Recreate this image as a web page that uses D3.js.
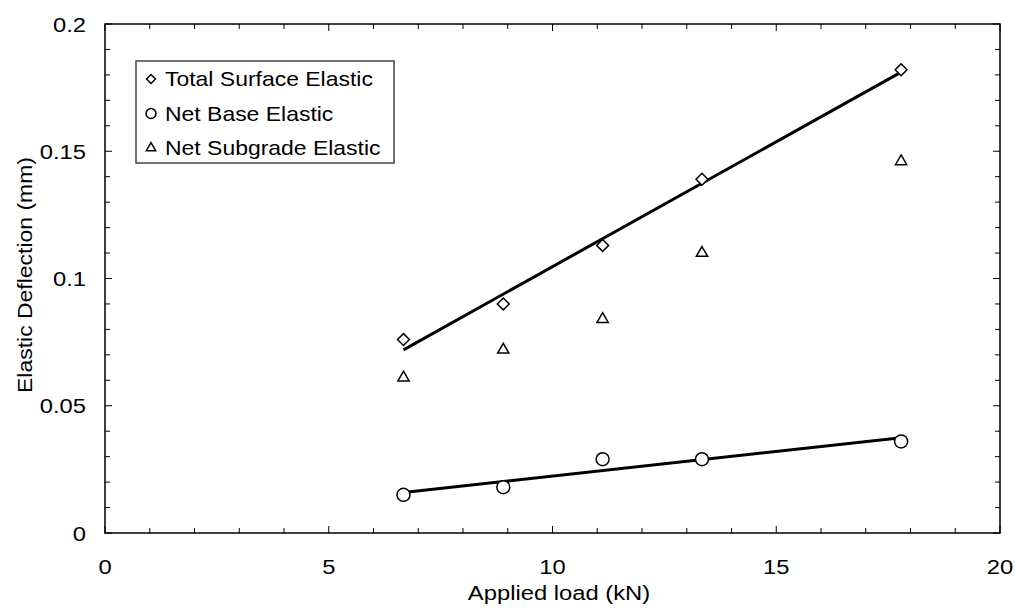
<!DOCTYPE html>
<html>
<head>
<meta charset="utf-8">
<script src="https://cdn.jsdelivr.net/npm/d3@7"></script>
<style>
    body { margin: 0; background: #fff; }
    text { font-family: "Liberation Sans", Arial, sans-serif; fill: #000; font-size: 20.5px; }
</style>
</head>
<body>
<script>
(function(){

    //data
    var loads = [6.67, 8.90, 11.12, 13.34, 17.79];          //applied load (kN)
    var totalSurface = [0.076, 0.090, 0.113, 0.139, 0.182];  //Total Surface Elastic
    var netBase = [0.015, 0.018, 0.029, 0.029, 0.036];       //Net Base Elastic
    var netSubgrade = [0.061, 0.072, 0.084, 0.110, 0.146];   //Net Subgrade Elastic
    var xTicks = [0, 5, 10, 15, 20];
    var yTicks = [0, 0.05, 0.1, 0.15, 0.2];
    var legendItems = ["Total Surface Elastic", "Net Base Elastic", "Net Subgrade Elastic"];

    var width = 1015, height = 610;
    var left = 105, right = 1000, top = 24, bottom = 533;
    var stretch = 1.16; //text in the original is a bit wider than Arial

    var svg = d3.select("body").append("svg")
        .attr("width", width)
        .attr("height", height);

    var x = d3.scaleLinear().domain([0, 20]).range([left, right]);
    var y = d3.scaleLinear().domain([0, 0.2]).range([bottom, top]);

    //helper: stretched text placed at (tx, ty)
    function label(parent, tx, ty, str, anchor, rot, sx){
        return parent.append("text")
            .attr("transform", "translate(" + tx + "," + ty + ")" + (rot ? " rotate(" + rot + ")" : "") + " scale(" + (sx || stretch) + ",1)")
            .attr("text-anchor", anchor || "start")
            .text(str);
    }

    //minor + major ticks, pointing inward on all four sides
    var xMinor = d3.range(0, 21, 1), yMinor = d3.range(0, 0.2001, 0.01);
    function isMajorX(v){ return Math.abs(v % 5) < 1e-9; }
    function isMajorY(v){ return Math.abs(Math.round(v * 100) % 5) === 0; }

    var ticks = svg.append("g").attr("stroke", "#000").attr("stroke-width", 1);
    xMinor.forEach(function(v){
        var len = isMajorX(v) ? 7 : 5;
        ticks.append("line").attr("x1", x(v)).attr("x2", x(v)).attr("y1", bottom).attr("y2", bottom - len);
        ticks.append("line").attr("x1", x(v)).attr("x2", x(v)).attr("y1", top).attr("y2", top + len);
    });
    yMinor.forEach(function(v){
        var len = isMajorY(v) ? 7 : 5;
        ticks.append("line").attr("x1", left).attr("x2", left + len).attr("y1", y(v)).attr("y2", y(v));
        ticks.append("line").attr("x1", right).attr("x2", right - len).attr("y1", y(v)).attr("y2", y(v));
    });

    //plot frame
    svg.append("rect")
        .attr("x", left).attr("y", top)
        .attr("width", right - left).attr("height", bottom - top)
        .attr("fill", "none").attr("stroke", "#000").attr("stroke-width", 1.5);

    //tick labels
    xTicks.forEach(function(d){ label(svg, x(d), 574, d, "middle"); });
    yTicks.forEach(function(d){ label(svg, 86, y(d) + 7.5, d, "end"); });

    //axis titles
    label(svg, 559, 600, "Applied load (kN)", "middle");
    label(svg, 32, 275, "Elastic Deflection (mm)", "middle", -90, 1.12);

    //least squares trendline
    function fit(xs, ys){
        var mx = d3.mean(xs), my = d3.mean(ys);
        var sxy = d3.sum(xs, function(v, i){ return (v - mx) * (ys[i] - my); });
        var sxx = d3.sum(xs, function(v){ return (v - mx) * (v - mx); });
        var b = sxy / sxx;
        return function(v){ return my + b * (v - mx); };
    }
    [totalSurface, netBase].forEach(function(ys){
        var f = fit(loads, ys);
        var x0 = d3.min(loads), x1 = d3.max(loads);
        svg.append("line")
            .attr("x1", x(x0)).attr("y1", y(f(x0)))
            .attr("x2", x(x1)).attr("y2", y(f(x1)))
            .attr("stroke", "#000").attr("stroke-width", 3);
    });

    //markers
    var diamond = d3.symbol().type(d3.symbolDiamond2).size(90);
    var triangle = d3.symbol().type(d3.symbolTriangle).size(55);

    function drawMarkers(ys, shape){
        svg.append("g").selectAll("path").data(ys).enter().append("path")
            .attr("transform", function(d, i){ return "translate(" + x(loads[i]) + "," + y(d) + ")"; })
            .attr("d", shape)
            .attr("fill", "#fff").attr("stroke", "#000").attr("stroke-width", 1.5);
    }
    drawMarkers(totalSurface, diamond);
    drawMarkers(netSubgrade, triangle);
    svg.append("g").selectAll("circle").data(netBase).enter().append("circle")
        .attr("cx", function(d, i){ return x(loads[i]); })
        .attr("cy", function(d){ return y(d); })
        .attr("r", 6.5)
        .attr("fill", "#fff").attr("stroke", "#000").attr("stroke-width", 1.5);

    //legend
    var legend = svg.append("g");
    legend.append("rect")
        .attr("x", 136).attr("y", 61).attr("width", 258).attr("height", 102)
        .attr("fill", "#fff").attr("stroke", "#444").attr("stroke-width", 1.5);

    var legendShapes = [d3.symbol().type(d3.symbolDiamond2).size(50), null, d3.symbol().type(d3.symbolTriangle).size(38)];
    legendItems.forEach(function(name, i){
        var cy = 79 + i * 34.5;
        if (legendShapes[i]) {
            legend.append("path")
                .attr("transform", "translate(151," + cy + ")")
                .attr("d", legendShapes[i])
                .attr("fill", "#fff").attr("stroke", "#000").attr("stroke-width", 1.5);
        } else {
            legend.append("circle").attr("cx", 151).attr("cy", cy).attr("r", 5)
                .attr("fill", "#fff").attr("stroke", "#000").attr("stroke-width", 1.5);
        }
        label(legend, 165, cy + 7, name, "start", 0, 1.12);
    });

})();
</script>
</body>
</html>
